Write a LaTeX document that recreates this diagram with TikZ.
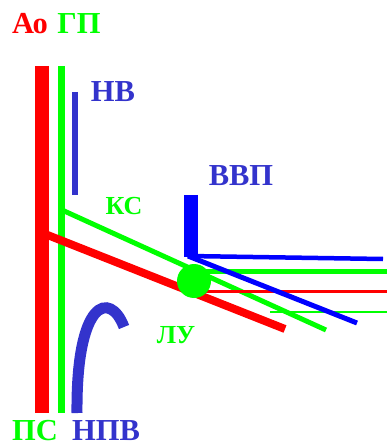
\documentclass[tikz,border=0pt]{standalone}
\usepackage{fontspec}
\setmainfont{Liberation Serif}
\definecolor{myred}{RGB}{255,0,0}
\definecolor{mygreen}{RGB}{0,255,0}
\definecolor{myblue}{RGB}{0,0,255}
\definecolor{softblue}{RGB}{51,51,204}
\begin{document}
\begin{tikzpicture}[x=1pt,y=-1pt,
  big/.style={font=\fontsize{30.5}{30.5}\selectfont\bfseries, inner sep=0pt},
  mid/.style={font=\fontsize{26}{26}\selectfont\bfseries, inner sep=0pt}]
\useasboundingbox (0,0) rectangle (387,443);
% labels
\node[big, text=myred] (ao) at (30,24) {Ао};
\node[big, text=mygreen] (gp) at (79,24) {ГП};
\node[big, text=softblue] (nv) at (113,92) {НВ};
\node[big, text=softblue] (vvp) at (241,176) {ВВП};
\node[mid, text=mygreen] (ks) at (124,206) {КС};
\node[mid, text=mygreen] (lu) at (176,335) {ЛУ};
\node[big, text=mygreen] (ps) at (35,430.5) {ПС};
\node[big, text=softblue] (npv) at (106,430.5) {НПВ};
% coordinates
\coordinate (rt) at (42,66); \coordinate (rb) at (42,413);
\coordinate (gt) at (61.5,66); \coordinate (gb) at (61.5,413);
\coordinate (nt) at (75,92); \coordinate (nb) at (75,195);
\coordinate (rd1) at (45,234); \coordinate (rd2) at (285,329);
\coordinate (gd1) at (62,210); \coordinate (gd2) at (326,330);
\coordinate (lu0) at (194,281);
\coordinate (vt) at (191,195); \coordinate (vc) at (191,257);
\coordinate (hl) at (188,256); \coordinate (hr) at (383,259);
\coordinate (bd) at (357,323);
\coordinate (gh1) at (200,271); \coordinate (gh2) at (387,271);
\coordinate (rh1) at (200,291); \coordinate (rh2) at (387,291);
\coordinate (gl1) at (270,312); \coordinate (gl2) at (387,312);
\coordinate (a0) at (77,413); \coordinate (a1) at (124,327);
% bars
\draw[myred, line width=14pt] (rt) -- (rb);
\draw[mygreen, line width=7pt] (gt) -- (gb);
\draw[softblue, line width=6pt] (nt) -- (nb);
% diagonals
\draw[myred, line width=8pt] (rd1) -- (rd2);
\draw[mygreen, line width=5pt] (gd1) -- (gd2);
% horizontals
\draw[mygreen, line width=5pt] (gh1) -- (gh2);
\draw[myred, line width=3pt] (rh1) -- (rh2);
\draw[mygreen, line width=2.5pt] (gl1) -- (gl2);
% circle
\fill[mygreen] (lu0) circle (17);
% blue L
\draw[myblue, line width=14pt] (vt) -- (vc);
\draw[myblue, line width=4.5pt] (hl) -- (hr);
\draw[myblue, line width=5pt] (hl) -- (bd);
% arc
\draw[softblue, line width=11pt] (a0) .. controls (76,300) and (110,290) .. (a1);
\end{tikzpicture}
\end{document}
